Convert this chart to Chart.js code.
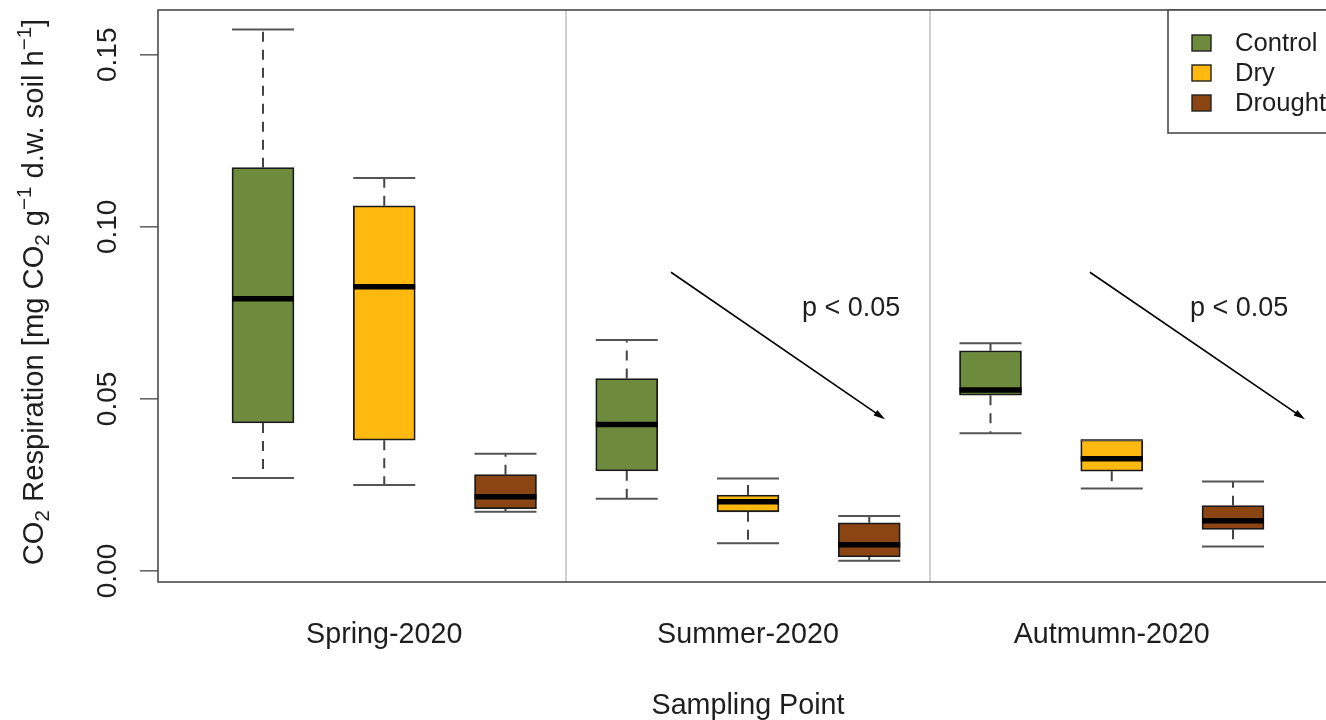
<!DOCTYPE html>
<html>
<head>
<meta charset="utf-8">
<title>CO2 Respiration by Sampling Point</title>
<script src="https://cdn.jsdelivr.net/npm/chart.js@4/dist/chart.umd.min.js"></script>
<style>
  html, body { margin: 0; padding: 0; background: #ffffff; overflow: hidden; }
  #wrap { width: 1350px; height: 720px; }
</style>
</head>
<body>
<div id="wrap"><canvas id="chart" width="1350" height="720"></canvas></div>
<script>
// ---- data ----
const seasons = ['Spring-2020', 'Summer-2020', 'Autmumn-2020'];
const treatments = ['Control', 'Dry', 'Drought'];

// per season: [lower whisker, Q1, median, Q3, upper whisker]
const controlStats = [
  [0.0270, 0.0430, 0.0791, 0.1172, 0.1573],
  [0.0210, 0.0291, 0.0426, 0.0559, 0.0671],
  [0.0400, 0.0511, 0.0526, 0.0640, 0.0662]
];
const dryStats = [
  [0.0250, 0.0380, 0.0826, 0.1061, 0.1142],
  [0.0081, 0.0172, 0.0201, 0.0221, 0.0269],
  [0.0240, 0.0290, 0.0326, 0.0381, 0.0381]
];
const droughtStats = [
  [0.0172, 0.0181, 0.0216, 0.0280, 0.0341],
  [0.0030, 0.0041, 0.0076, 0.0140, 0.0160],
  [0.0071, 0.0121, 0.0146, 0.0190, 0.0260]
];

const yTicks = [0.00, 0.05, 0.10, 0.15];

// trend annotations: [x0, y0, x1, y1] in axis units
const trendArrows = [
  [4.365, 0.0868, 6.130, 0.0441],
  [7.820, 0.0868, 9.594, 0.0441]
];
const trendLabels = ['p < 0.05', 'p < 0.05'];
const trendLabelX = [5.85, 9.05];
const trendLabelY = [0.0764, 0.0764];

// ---- styling ----
const FONT = '"Liberation Sans", Arial, Helvetica, sans-serif';
const TEXT = '#1e1e1e';
const AXIS_FONT = 28.7;
const fills = ['#6E8B3D', '#FFB90F', '#8B4513'];
const statsByTreatment = [controlStats, dryStats, droughtStats];
const perSeason = treatments.length;

const boxPos = (season, t) => season * perSeason + t + 1;
const seasonCenters = seasons.map((s, i) => boxPos(i, 1));
const separators = seasons.slice(1).map((s, i) => (i + 1) * perSeason + 0.5);

const datasets = treatments.map((name, t) => ({
  label: name,
  data: statsByTreatment[t].map((st, i) => ({ x: boxPos(i, t), y: [st[1], st[3]] })),
  stats: statsByTreatment[t],
  backgroundColor: fills[t],
  borderColor: '#1a1a1a',
  borderWidth: 1.8,
  borderSkipped: false,
  barThickness: 62,
  grouped: false
}));

const boxPlotPlugin = {
  id: 'boxPlotExtras',
  beforeDatasetsDraw(chart) {
    const { ctx, chartArea: a, scales: { x } } = chart;
    ctx.save();
    ctx.strokeStyle = '#d0d0d0';
    ctx.lineWidth = 2;
    separators.forEach(v => {
      const px = Math.round(x.getPixelForValue(v));
      ctx.beginPath();
      ctx.moveTo(px, a.top);
      ctx.lineTo(px, a.bottom);
      ctx.stroke();
    });
    ctx.restore();
  },
  afterDatasetsDraw(chart) {
    const { ctx, scales: { x, y } } = chart;
    ctx.save();
    chart.data.datasets.forEach((ds, di) => {
      const meta = chart.getDatasetMeta(di);
      meta.data.forEach((el, k) => {
        const st = ds.stats[k];
        const cx = el.x;
        const half = el.width / 2;
        const pLo = y.getPixelForValue(st[0]);
        const pQ1 = y.getPixelForValue(st[1]);
        const pMed = y.getPixelForValue(st[2]);
        const pQ3 = y.getPixelForValue(st[3]);
        const pHi = y.getPixelForValue(st[4]);
        // dashed whiskers
        ctx.strokeStyle = '#444';
        ctx.lineWidth = 2;
        ctx.setLineDash([10, 8]);
        ctx.beginPath();
        ctx.moveTo(cx, pQ3); ctx.lineTo(cx, pHi);
        ctx.moveTo(cx, pQ1); ctx.lineTo(cx, pLo);
        ctx.stroke();
        ctx.setLineDash([]);
        // whisker caps
        ctx.strokeStyle = '#555';
        ctx.lineWidth = 2;
        ctx.beginPath();
        ctx.moveTo(cx - half, pHi); ctx.lineTo(cx + half, pHi);
        ctx.moveTo(cx - half, pLo); ctx.lineTo(cx + half, pLo);
        ctx.stroke();
        // median
        ctx.strokeStyle = '#000';
        ctx.lineWidth = 5.5;
        ctx.beginPath();
        ctx.moveTo(cx - half, pMed); ctx.lineTo(cx + half, pMed);
        ctx.stroke();
      });
    });

    // trend arrows and p-value labels
    ctx.strokeStyle = '#000';
    ctx.fillStyle = '#000';
    ctx.lineWidth = 1.6;
    trendArrows.forEach(([x0, y0, x1, y1]) => {
      const ax = x.getPixelForValue(x0), ay = y.getPixelForValue(y0);
      const bx = x.getPixelForValue(x1), by = y.getPixelForValue(y1);
      const ang = Math.atan2(by - ay, bx - ax);
      const len = 12, spread = 0.28;
      ctx.beginPath();
      ctx.moveTo(ax, ay);
      ctx.lineTo(bx - Math.cos(ang) * 6, by - Math.sin(ang) * 6);
      ctx.stroke();
      ctx.beginPath();
      ctx.moveTo(bx, by);
      ctx.lineTo(bx - len * Math.cos(ang - spread), by - len * Math.sin(ang - spread));
      ctx.lineTo(bx - len * Math.cos(ang + spread), by - len * Math.sin(ang + spread));
      ctx.closePath();
      ctx.fill();
    });
    ctx.font = `27px ${FONT}`;
    ctx.fillStyle = TEXT;
    ctx.textAlign = 'center';
    ctx.textBaseline = 'middle';
    trendLabels.forEach((txt, i) => {
      ctx.fillText(txt, x.getPixelForValue(trendLabelX[i]), y.getPixelForValue(trendLabelY[i]));
    });
    ctx.restore();
  },
  afterDraw(chart) {
    const { ctx, chartArea: a, scales: { y } } = chart;
    ctx.save();

    // plot frame
    ctx.strokeStyle = '#4a4a4a';
    ctx.lineWidth = 1.6;
    ctx.strokeRect(a.left, a.top, a.right - a.left, a.bottom - a.top);

    // rotated y tick labels
    ctx.font = `28px ${FONT}`;
    ctx.fillStyle = TEXT;
    ctx.textAlign = 'center';
    ctx.textBaseline = 'middle';
    y.ticks.forEach(t => {
      ctx.save();
      ctx.translate(a.left - 50, y.getPixelForValue(t.value));
      ctx.rotate(-Math.PI / 2);
      ctx.fillText(t.value.toFixed(2), 0, 0);
      ctx.restore();
    });

    // y axis title with sub/superscripts
    const runs = [
      ['CO', 0], ['2', -1], [' Respiration [mg CO', 0], ['2', -1], [' g', 0], ['\u22121', 1],
      [' d.w. soil h', 0], ['\u22121', 1], [']', 0]
    ];
    const big = 29.2, small = 20.5;
    const fontFor = s => `${s === 0 ? big : small}px ${FONT}`;
    let total = 0;
    runs.forEach(([t, s]) => { ctx.font = fontFor(s); total += ctx.measureText(t).width; });
    ctx.save();
    ctx.translate(33, (a.top + a.bottom) / 2 - 4);
    ctx.rotate(-Math.PI / 2);
    ctx.textAlign = 'left';
    ctx.textBaseline = 'alphabetic';
    let cx = -total / 2;
    const base = 10;
    runs.forEach(([t, s]) => {
      ctx.font = fontFor(s);
      const dy = s === -1 ? 6 : (s === 1 ? -12 : 0);
      ctx.fillText(t, cx, base + dy);
      cx += ctx.measureText(t).width;
    });
    ctx.restore();

    // legend
    const lx = a.right - 170, ly = a.top, lh = 123;
    ctx.fillStyle = '#fff';
    ctx.fillRect(lx, ly, 200, lh);
    ctx.strokeStyle = '#4a4a4a';
    ctx.lineWidth = 1.6;
    ctx.strokeRect(lx, ly, 200, lh);
    ctx.font = `25.6px ${FONT}`;
    ctx.textAlign = 'left';
    ctx.textBaseline = 'middle';
    chart.data.datasets.forEach((ds, i) => {
      const cyy = ly + 33 + i * 30;
      ctx.fillStyle = ds.backgroundColor;
      ctx.fillRect(lx + 24, cyy - 8, 19, 16);
      ctx.strokeStyle = '#222';
      ctx.lineWidth = 1.4;
      ctx.strokeRect(lx + 24, cyy - 8, 19, 16);
      ctx.fillStyle = TEXT;
      ctx.fillText(ds.label, lx + 67, cyy + 1);
    });
    ctx.restore();
  }
};

new Chart(document.getElementById('chart'), {
  type: 'bar',
  data: { datasets },
  options: {
    responsive: false,
    animation: false,
    layout: { padding: { top: 10, right: 12, left: 0, bottom: 0 } },
    plugins: { legend: { display: false }, tooltip: { enabled: false } },
    scales: {
      x: {
        type: 'linear',
        offset: false,
        min: 0.134,
        max: 9.866,
        afterBuildTicks: s => { s.ticks = seasonCenters.map(v => ({ value: v })); },
        afterFit: s => { s.height = 138; },
        grid: { display: false, offset: false },
        border: { display: false },
        ticks: {
          autoSkip: false,
          maxRotation: 0,
          padding: 28,
          color: TEXT,
          font: { family: FONT, size: AXIS_FONT },
          callback: (v, i) => seasons[i]
        },
        title: {
          display: true,
          text: 'Sampling Point',
          color: TEXT,
          font: { family: FONT, size: AXIS_FONT, lineHeight: 1.0 },
          padding: { top: 0, bottom: 0 }
        }
      },
      y: {
        min: -0.00319,
        max: 0.1630,
        afterBuildTicks: s => { s.ticks = yTicks.map(v => ({ value: v })); },
        afterFit: s => { s.width = 158; },
        border: { display: false },
        grid: { display: true, drawOnChartArea: false, drawTicks: true, tickLength: 18, color: '#666', lineWidth: 1.6 },
        ticks: { display: false }
      }
    }
  },
  plugins: [boxPlotPlugin]
});
</script>
</body>
</html>
